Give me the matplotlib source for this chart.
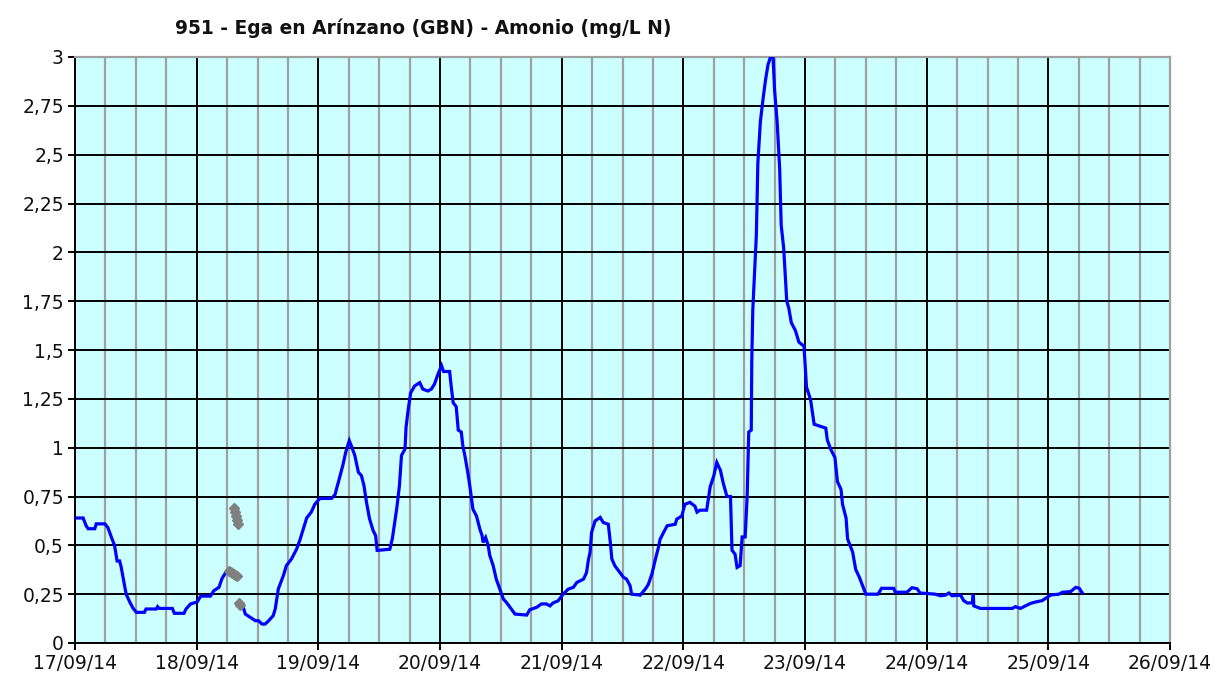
import numpy as np
import pandas as pd
import matplotlib
matplotlib.use("Agg")
import matplotlib.pyplot as plt
import matplotlib.dates as mdates
from matplotlib.ticker import FuncFormatter, MultipleLocator

# Amonio (mg/L N), hours after 17/09/14 00:00
hours_a = [0, 1.6, 2.2, 2.6, 3.9, 4.2, 5.9, 6.5, 7.2, 7.8, 8.3, 8.8, 9.1, 9.8, 10.1,
           10.8, 11.4, 12.1, 13.7, 14.0, 16.0, 16.3, 16.6, 19.2, 19.6, 21.5, 21.9,
           22.8, 24.1, 24.8, 26.7, 27.4, 28.4, 29.0, 29.7, 30.2]
amonio_a = [0.64, 0.64, 0.60, 0.585, 0.585, 0.61, 0.61, 0.59, 0.54, 0.50, 0.42, 0.42,
            0.39, 0.29, 0.25, 0.21, 0.18, 0.157, 0.157, 0.174, 0.174, 0.186, 0.177,
            0.177, 0.152, 0.152, 0.174, 0.20, 0.21, 0.24, 0.24, 0.268, 0.285, 0.33,
            0.36, 0.365]

hours_b = [33.1, 33.6, 34.6, 35.6, 36.2, 36.9, 37.5, 38.2, 39.1, 39.5, 40.1, 41.1,
           41.7, 42.7, 43.7, 44.4, 45.0, 45.7, 46.6, 47.3, 48.3, 50.6, 51.3, 51.6,
           52.3, 52.9, 53.4, 54.1, 54.5, 55.2, 55.9, 56.5, 57.0, 57.5, 58.1, 58.8,
           59.3, 59.6, 62.1, 62.6, 63.5, 64.0, 64.4, 65.1, 65.3, 65.7, 66.2, 67.0,
           68.0, 68.6, 69.6, 70.3, 70.9, 71.6, 72.3, 72.7, 73.9, 74.2, 74.6, 75.2,
           75.6, 76.2, 76.5, 76.9, 77.5, 77.9, 78.5, 79.2, 79.9, 80.3, 80.5, 81.0,
           81.5, 81.8, 82.5, 83.1, 83.8, 84.5, 85.1, 85.8, 86.8, 89.1, 89.7, 91.1,
           92.0, 93.0, 93.7, 94.3, 95.3, 96.3, 97.3, 98.3, 99.0, 100.3, 100.9, 101.3,
           101.6, 101.9, 102.6, 103.6, 104.2, 105.2, 105.6, 105.9, 106.5, 107.5,
           108.2, 108.8, 109.5, 109.8, 111.5, 112.5, 113.1, 113.8, 114.5, 115.1,
           115.4, 116.1, 116.8, 118.4, 118.7, 119.7, 120.3, 121.3, 122.3, 122.7,
           123.3, 124.6, 125.3, 126.0, 126.6, 127.3, 127.9, 128.6, 129.3, 129.6,
           130.2, 130.6, 131.2, 131.6, 132.2, 132.6, 132.9, 133.4, 133.5, 133.7,
           134.4, 134.7, 135.2, 135.7, 136.2, 136.7, 137.2, 137.7, 138.0, 138.5,
           139.0, 139.3, 139.8, 140.4, 140.8, 141.3, 142.1, 142.8, 143.8, 144.3,
           145.1, 145.8, 148.1, 148.4, 149.1, 149.9, 150.4, 151.1, 151.4, 152.1,
           152.4, 153.4, 154.0, 154.7, 155.4, 156.0, 158.4, 159.1, 161.5, 161.8,
           164.1, 165.1, 166.1, 166.7, 169.7, 170.7, 171.7, 172.4, 173.0, 174.7,
           175.3, 176.0, 177.0, 177.2, 177.3, 178.6, 184.9, 185.5, 186.5, 187.5,
           188.5, 189.5, 190.8, 191.8, 192.5, 194.1, 194.8, 196.4, 197.4, 198.1,
           198.7]
amonio_b = [0.19, 0.148, 0.131, 0.114, 0.114, 0.097, 0.097, 0.114, 0.14, 0.174, 0.276,
            0.345, 0.396, 0.43, 0.48, 0.53, 0.58, 0.64, 0.67, 0.71, 0.74, 0.74, 0.76,
            0.79, 0.857, 0.917, 0.976, 1.036, 1.01, 0.96, 0.874, 0.857, 0.806, 0.72,
            0.636, 0.576, 0.55, 0.474, 0.48, 0.534, 0.695, 0.806, 0.96, 0.993, 1.104,
            1.19, 1.28, 1.316, 1.333, 1.30, 1.29, 1.30, 1.325, 1.376, 1.42, 1.39, 1.39,
            1.316, 1.23, 1.21, 1.09, 1.08, 1.01, 0.96, 0.87, 0.80, 0.685, 0.65, 0.58,
            0.55, 0.515, 0.54, 0.50, 0.45, 0.395, 0.327, 0.276, 0.225, 0.208, 0.183,
            0.148, 0.143, 0.17, 0.183, 0.20, 0.20, 0.19, 0.205, 0.216, 0.25, 0.276,
            0.285, 0.31, 0.327, 0.36, 0.43, 0.464, 0.566, 0.625, 0.643, 0.617, 0.608,
            0.515, 0.43, 0.395, 0.36, 0.336, 0.327, 0.293, 0.25, 0.245, 0.276, 0.30,
            0.353, 0.43, 0.49, 0.53, 0.566, 0.60, 0.608, 0.634, 0.65, 0.71, 0.72, 0.70,
            0.67, 0.68, 0.68, 0.80, 0.855, 0.924, 0.885, 0.816, 0.75, 0.75, 0.475,
            0.455, 0.387, 0.396, 0.543, 0.543, 0.758, 1.08, 1.09, 1.44, 1.705, 2.086,
            2.457, 2.67, 2.78, 2.88, 2.96, 3.0, 3.0, 2.83, 2.67, 2.43, 2.14, 2.02,
            1.75, 1.715, 1.64, 1.60, 1.54, 1.52, 1.31, 1.246, 1.12, 1.10, 1.04, 0.99,
            0.95, 0.826, 0.787, 0.71, 0.64, 0.533, 0.465, 0.377, 0.338, 0.29, 0.25,
            0.25, 0.28, 0.28, 0.26, 0.26, 0.283, 0.278, 0.256, 0.25, 0.242, 0.245,
            0.256, 0.242, 0.245, 0.217, 0.205, 0.205, 0.25, 0.19, 0.177, 0.177, 0.186,
            0.177, 0.19, 0.203, 0.21, 0.217, 0.234, 0.246, 0.25, 0.26, 0.263, 0.285,
            0.28, 0.256]

# flagged values (gray)
hours_flag = [30.4, 30.7, 31.0, 31.3, 31.6, 31.9, 31.4, 31.6, 31.8, 32.0, 32.2, 32.3, 32.6]
amonio_flag = [0.37, 0.365, 0.36, 0.355, 0.35, 0.345, 0.69, 0.67, 0.65, 0.63, 0.61, 0.205, 0.195]

start = pd.Timestamp("2014-09-17")
t_a = start + pd.to_timedelta(hours_a, unit="h")
t_b = start + pd.to_timedelta(hours_b, unit="h")
t_flag = start + pd.to_timedelta(hours_flag, unit="h")

fig = plt.figure(figsize=(12.15, 6.79), dpi=100)
ax = fig.add_axes([75 / 1215, 36 / 679, 1095 / 1215, 586 / 679])
ax.set_facecolor("#CCFFFF")

ax.plot(t_a, amonio_a, color="#0000FF", lw=2.3, solid_joinstyle="miter", zorder=3)
ax.plot(t_b, amonio_b, color="#0000FF", lw=2.3, solid_joinstyle="miter", zorder=3)
ax.plot(t_flag, amonio_flag, ls="none", marker="D", ms=5, color="#808080",
        mec="#808080", zorder=4)

ax.set_xlim(pd.Timestamp("2014-09-17"), pd.Timestamp("2014-09-26"))
ax.set_ylim(0, 3)

ax.xaxis.set_major_locator(mdates.DayLocator())
ax.xaxis.set_major_formatter(mdates.DateFormatter("%d/%m/%y"))
ax.xaxis.set_minor_locator(mdates.HourLocator(byhour=[6, 12, 18]))
ax.yaxis.set_major_locator(MultipleLocator(0.25))
ax.yaxis.set_major_formatter(FuncFormatter(lambda v, p: ("%g" % v).replace(".", ",")))

ax.grid(which="minor", axis="x", color="#A0A0A0", lw=1.6)
ax.grid(which="major", axis="x", color="black", lw=1.4)
ax.grid(which="major", axis="y", color="black", lw=1.4)
ax.set_axisbelow(True)

ax.tick_params(axis="both", which="major", labelsize=13.5, colors="black",
               length=5, width=1.4, direction="out", pad=3)
ax.tick_params(axis="x", which="minor", length=0)
for lab in ax.get_xticklabels() + ax.get_yticklabels():
    lab.set_color("#111111")

ax.spines["left"].set_color("black")
ax.spines["bottom"].set_color("black")
ax.spines["left"].set_linewidth(1.4)
ax.spines["bottom"].set_linewidth(1.4)
ax.spines["top"].set_color("#A0A0A0")
ax.spines["right"].set_color("#A0A0A0")
ax.spines["top"].set_linewidth(1.6)
ax.spines["right"].set_linewidth(1.6)

fig.text(175 / 1215, 1 - 28 / 679, "951 - Ega en Arínzano (GBN) - Amonio (mg/L N)",
         fontsize=13.4, fontweight="bold", ha="left", va="center", color="#111111")

fig.savefig("out.png", dpi=100, facecolor="white")
